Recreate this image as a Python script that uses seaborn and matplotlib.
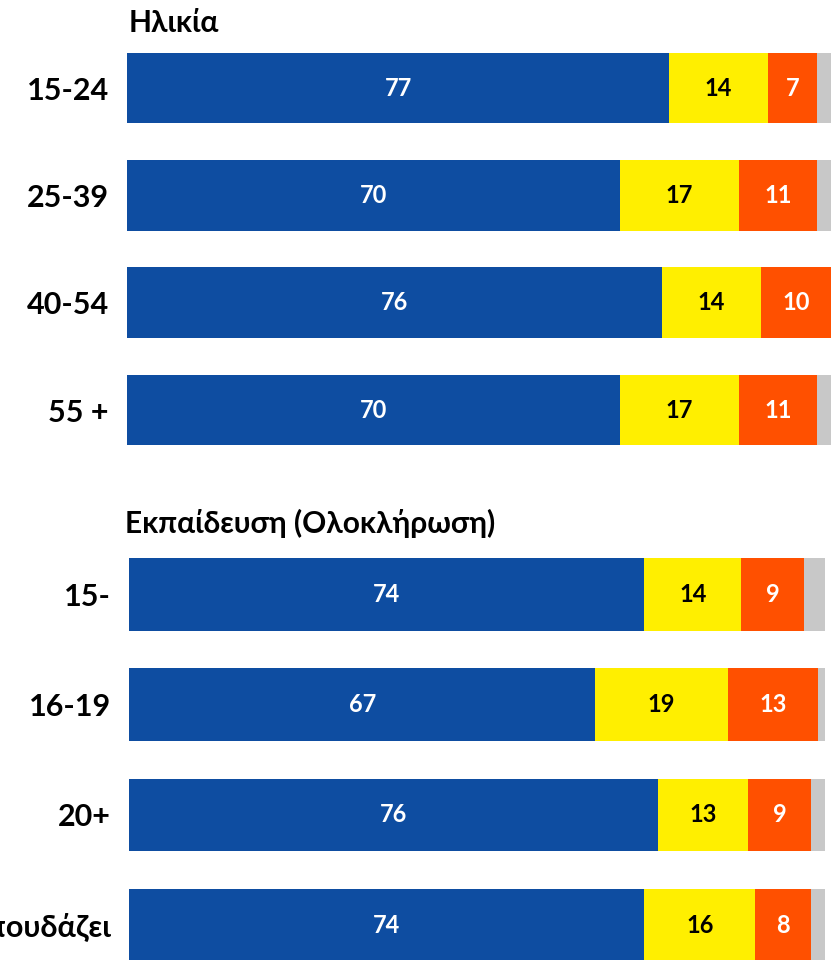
import pandas as pd
import matplotlib.pyplot as plt
import seaborn as sns

# Data
age_groups = ['15-24', '25-39', '40-54', '55 +']
age_blue = [77, 70, 76, 70]
age_yellow = [14, 17, 14, 17]
age_orange = [7, 11, 10, 11]
age_grey = [2, 2, 0, 2]

edu_groups = ['15-', '16-19', '20+', 'Σπουδάζει']
edu_blue = [74, 67, 76, 74]
edu_yellow = [14, 19, 13, 16]
edu_orange = [9, 13, 9, 8]
edu_grey = [3, 1, 2, 2]

colors = ['#0E4DA1', '#FFEF00', '#FF5000', '#C8C8C8']
text_colors = ['white', 'black', 'white', None]

sns.set_style("white")
plt.rcParams['font.family'] = ['Lato', 'DejaVu Sans']
plt.rcParams['font.weight'] = 'bold'

W, H = 838, 960
fig = plt.figure(figsize=(W / 100, H / 100), dpi=100)


def px_axes(x0, x1, y_top, y_bot):
    return fig.add_axes([x0 / W, 1 - y_bot / H, (x1 - x0) / W, (y_bot - y_top) / H])


def draw_panel(ax, groups, blue, yellow, orange, grey):
    df = pd.DataFrame({'group': groups, 'blue': blue, 'yellow': yellow,
                       'orange': orange, 'grey': grey})
    parts = ['blue', 'yellow', 'orange', 'grey']
    cum = df[parts].cumsum(axis=1)
    # draw from the longest (cumulative) to the shortest so they stack visually
    for part, col in reversed(list(zip(parts, colors))):
        sns.barplot(x=cum[part], y=df['group'], color=col, saturation=1,
                    width=0.66, orient='h', linewidth=0, ax=ax)
    for i in range(len(df)):
        for part, tc in zip(parts, text_colors):
            v = df.loc[i, part]
            if tc is None or v == 0:
                continue
            ax.text(cum.loc[i, part] - v / 2, i, str(v), ha='center', va='center',
                    color=tc, fontsize=17, fontweight='bold')
    ax.set_xlim(0, 100)
    ax.set_xlabel('')
    ax.set_ylabel('')
    ax.set_xticks([])
    ax.tick_params(axis='y', length=0, pad=13, labelsize=22)
    for lab in ax.get_yticklabels():
        lab.set_fontweight('bold')
        lab.set_color('black')
    sns.despine(ax=ax, left=True, bottom=True)


ax1 = px_axes(127, 831, 34.4, 463.7)
draw_panel(ax1, age_groups, age_blue, age_yellow, age_orange, age_grey)
ax1.set_ylim(3.5, -0.5)

ax2 = px_axes(129, 825, 539.4, 980.2)
draw_panel(ax2, edu_groups, edu_blue, edu_yellow, edu_orange, edu_grey)
ax2.set_ylim(3.5, -0.5)

fig.text(129 / W, 1 - 32 / H, 'Ηλικία', fontsize=21.5, fontweight='bold',
         color='black', ha='left', va='baseline')
fig.text(125 / W, 1 - 533 / H, 'Εκπαίδευση (Ολοκλήρωση)', fontsize=21.5,
         fontweight='bold', color='black', ha='left', va='baseline')

plt.savefig('out.png', dpi=100)
plt.close()
